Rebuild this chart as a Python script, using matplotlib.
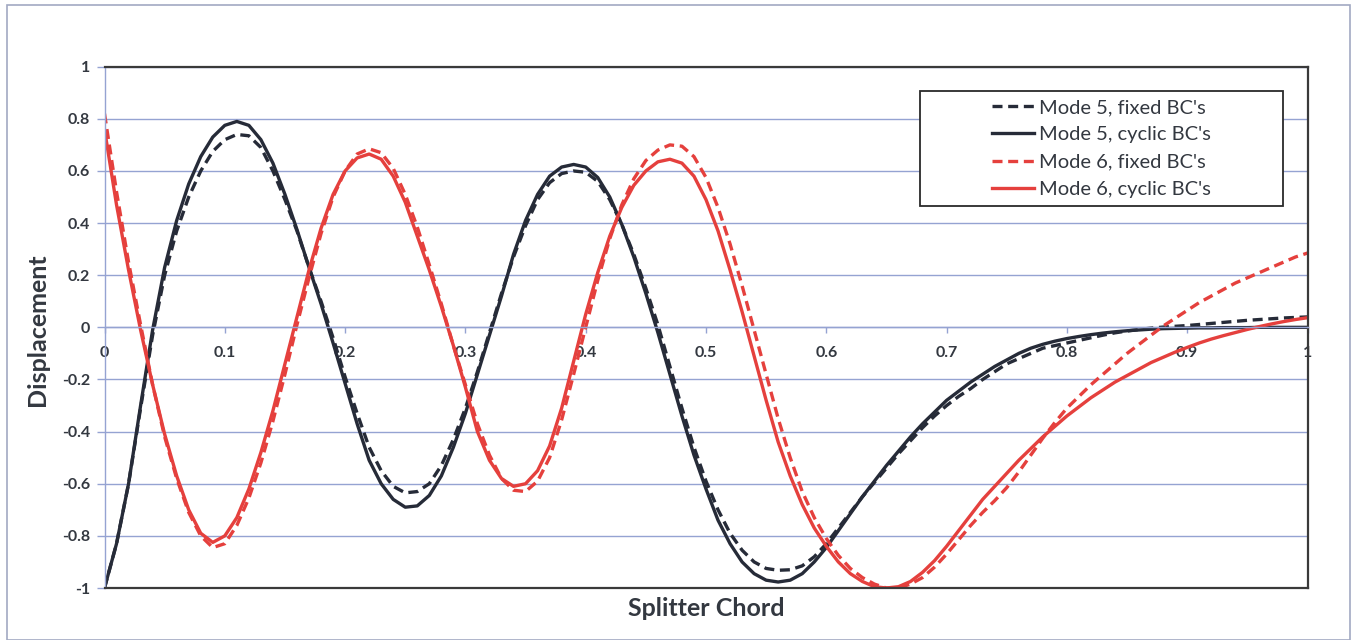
import matplotlib
matplotlib.use("Agg")
import matplotlib.pyplot as plt
from matplotlib.patches import Rectangle
from matplotlib.lines import Line2D

# Sample positions along the splitter chord
chord = [0.00, 0.01, 0.02, 0.03, 0.04, 0.05, 0.06, 0.07, 0.08, 0.09,
         0.10, 0.11, 0.12, 0.13, 0.14, 0.15, 0.16, 0.17, 0.18, 0.19,
         0.20, 0.21, 0.22, 0.23, 0.24, 0.25, 0.26, 0.27, 0.28, 0.29,
         0.30, 0.31, 0.32, 0.33, 0.34, 0.35, 0.36, 0.37, 0.38, 0.39,
         0.40, 0.41, 0.42, 0.43, 0.44, 0.45, 0.46, 0.47, 0.48, 0.49,
         0.50, 0.51, 0.52, 0.53, 0.54, 0.55, 0.56, 0.57, 0.58, 0.59,
         0.60, 0.61, 0.62, 0.63, 0.64, 0.65, 0.66, 0.67, 0.68, 0.69,
         0.70, 0.71, 0.72, 0.73, 0.74, 0.75, 0.76, 0.77, 0.78, 0.79,
         0.80, 0.81, 0.82, 0.83, 0.84, 0.85, 0.86, 0.87, 0.88, 0.89,
         0.90, 0.91, 0.92, 0.93, 0.94, 0.95, 0.96, 0.97, 0.98, 0.99,
         1.00]

mode5_fixed = [-1.00, -0.83, -0.60, -0.31, -0.03, 0.20, 0.37, 0.50, 0.60, 0.675,
               0.72, 0.74, 0.735, 0.69, 0.60, 0.49, 0.37, 0.23, 0.10, -0.04,
               -0.19, -0.33, -0.46, -0.55, -0.61, -0.635, -0.63, -0.60, -0.53, -0.43,
               -0.31, -0.17, -0.02, 0.13, 0.27, 0.39, 0.49, 0.555, 0.59, 0.60,
               0.595, 0.56, 0.49, 0.395, 0.28, 0.15, 0.01, -0.15, -0.31, -0.46,
               -0.59, -0.70, -0.79, -0.855, -0.90, -0.925, -0.932, -0.93, -0.915, -0.88,
               -0.83, -0.77, -0.71, -0.65, -0.595, -0.54, -0.485, -0.435, -0.385, -0.34,
               -0.30, -0.265, -0.235, -0.20, -0.17, -0.14, -0.12, -0.10, -0.08, -0.07,
               -0.06, -0.05, -0.04, -0.03, -0.021, -0.014, -0.008, -0.003, 0.001, 0.004,
               0.007, 0.011, 0.015, 0.019, 0.023, 0.027, 0.030, 0.033, 0.036, 0.038,
               0.040]

mode5_cyclic = [-1.00, -0.83, -0.60, -0.30, -0.01, 0.23, 0.41, 0.55, 0.655, 0.73,
                0.775, 0.79, 0.775, 0.72, 0.63, 0.51, 0.375, 0.23, 0.09, -0.06,
                -0.215, -0.37, -0.51, -0.60, -0.66, -0.69, -0.685, -0.645, -0.57, -0.46,
                -0.33, -0.18, -0.03, 0.12, 0.28, 0.41, 0.51, 0.58, 0.615, 0.625,
                0.615, 0.575, 0.50, 0.395, 0.27, 0.13, -0.02, -0.18, -0.34, -0.49,
                -0.62, -0.74, -0.83, -0.90, -0.945, -0.97, -0.977, -0.97, -0.945, -0.90,
                -0.845, -0.78, -0.715, -0.65, -0.59, -0.53, -0.475, -0.42, -0.37, -0.325,
                -0.28, -0.245, -0.21, -0.18, -0.15, -0.125, -0.10, -0.08, -0.065, -0.053,
                -0.043, -0.035, -0.028, -0.022, -0.017, -0.013, -0.010, -0.007, -0.005, -0.004,
                -0.003, -0.002, -0.002, -0.001, -0.001, -0.001, 0.000, 0.000, 0.000, 0.000,
                0.000]

mode6_fixed = [0.82, 0.52, 0.25, 0.01, -0.22, -0.42, -0.58, -0.71, -0.80, -0.845,
               -0.83, -0.76, -0.655, -0.52, -0.36, -0.18, 0.01, 0.19, 0.36, 0.50,
               0.60, 0.665, 0.685, 0.67, 0.61, 0.51, 0.385, 0.24, 0.09, -0.07,
               -0.22, -0.37, -0.49, -0.58, -0.625, -0.63, -0.59, -0.50, -0.355, -0.18,
               0.00, 0.18, 0.34, 0.47, 0.57, 0.64, 0.68, 0.70, 0.695, 0.655,
               0.575, 0.46, 0.32, 0.16, -0.01, -0.18, -0.35, -0.50, -0.63, -0.73,
               -0.81, -0.875, -0.925, -0.96, -0.985, -1.00, -1.00, -0.985, -0.96, -0.92,
               -0.87, -0.815, -0.76, -0.71, -0.665, -0.615, -0.555, -0.49, -0.425, -0.365,
               -0.31, -0.265, -0.22, -0.18, -0.14, -0.10, -0.065, -0.03, 0.005, 0.035,
               0.065, 0.095, 0.12, 0.145, 0.17, 0.19, 0.21, 0.23, 0.25, 0.27,
               0.285]

mode6_cyclic = [0.76, 0.47, 0.22, -0.01, -0.22, -0.41, -0.57, -0.70, -0.79, -0.825,
                -0.80, -0.73, -0.62, -0.48, -0.32, -0.14, 0.04, 0.22, 0.38, 0.51,
                0.60, 0.65, 0.665, 0.645, 0.58, 0.48, 0.35, 0.22, 0.08, -0.07,
                -0.23, -0.40, -0.51, -0.58, -0.61, -0.60, -0.55, -0.455, -0.31, -0.13,
                0.05, 0.21, 0.35, 0.46, 0.545, 0.60, 0.635, 0.645, 0.63, 0.58,
                0.49, 0.37, 0.22, 0.06, -0.11, -0.28, -0.44, -0.57, -0.68, -0.77,
                -0.84, -0.90, -0.945, -0.975, -0.995, -1.00, -0.995, -0.975, -0.94, -0.895,
                -0.84, -0.78, -0.72, -0.66, -0.61, -0.56, -0.51, -0.465, -0.42, -0.38,
                -0.34, -0.305, -0.27, -0.24, -0.21, -0.185, -0.16, -0.135, -0.115, -0.095,
                -0.077, -0.060, -0.045, -0.032, -0.020, -0.008, 0.003, 0.013, 0.022, 0.030,
                0.037]

x_ticks = [0.0, 0.1, 0.2, 0.3, 0.4, 0.5, 0.6, 0.7, 0.8, 0.9, 1.0]
x_tick_labels = ["0", "0.1", "0.2", "0.3", "0.4", "0.5", "0.6", "0.7", "0.8", "0.9", "1"]
y_ticks = [-1.0, -0.8, -0.6, -0.4, -0.2, 0.0, 0.2, 0.4, 0.6, 0.8, 1.0]
y_tick_labels = ["-1", "-0.8", "-0.6", "-0.4", "-0.2", "0", "0.2", "0.4", "0.6", "0.8", "1"]

series_labels = ["Mode 5, fixed BC's", "Mode 5, cyclic BC's",
                 "Mode 6, fixed BC's", "Mode 6, cyclic BC's"]

DARK = "#262b38"
RED = "#e5403d"
GRID = "#95a3d2"
FRAME = "#3a3a3a"
TEXT = "#333840"
FONT = "Lato"
tick_font = {"family": FONT, "weight": "bold", "size": 11.5, "color": TEXT}

W, H = 1351, 640
fig = plt.figure(figsize=(W / 100, H / 100), dpi=100)

# light frame round the whole chart
fig.patches.append(Rectangle((6.5 / W, 0.5 / H), (1349.5 - 6.5) / W, (635.0 - 0.5) / H,
                             transform=fig.transFigure, fill=False,
                             edgecolor="#a2a9c2", linewidth=1.2))

ax = fig.add_axes([104.5 / W, (H - 588.0) / H, 1203.0 / W, 521.3 / H])
ax.set_xlim(0, 1)
ax.set_ylim(-1, 1)

# x axis runs through y = 0 (set before the tick labels are styled)
ax.spines["bottom"].set_position(("data", 0.0))
ax.spines["bottom"].set_color(GRID)
ax.spines["bottom"].set_linewidth(1.0)
for side in ("top", "right"):
    ax.spines[side].set_color(FRAME)
    ax.spines[side].set_linewidth(1.6)
ax.spines["left"].set_color(GRID)
ax.spines["left"].set_linewidth(1.0)

dash = (0, (3.0, 1.7))
lw = 2.4
ax.plot(chord, mode5_fixed, color=DARK, lw=lw, linestyle=dash, label=series_labels[0])
ax.plot(chord, mode5_cyclic, color=DARK, lw=lw, label=series_labels[1])
ax.plot(chord, mode6_fixed, color=RED, lw=lw, linestyle=dash, label=series_labels[2])
ax.plot(chord, mode6_cyclic, color=RED, lw=lw, label=series_labels[3])

ax.yaxis.grid(True, color=GRID, linewidth=1.0)
ax.set_axisbelow(True)
ax.tick_params(axis="y", direction="out", length=5.5, width=1.0, color=GRID, pad=5)
ax.tick_params(axis="x", direction="out", length=4.5, width=1.0, color=GRID, pad=9)
ax.set_yticks(y_ticks)
ax.set_yticklabels(y_tick_labels, fontdict=tick_font)
ax.set_xticks(x_ticks)
ax.set_xticklabels(x_tick_labels, fontdict=tick_font)

# plot-area border along the bottom
ax.add_line(Line2D([0, 1], [0, 0], transform=ax.transAxes, color=FRAME,
                   linewidth=1.6, clip_on=False, zorder=3))

fig.text(706 / W, 1 - 609 / H, "Splitter Chord", ha="center", va="center",
         fontfamily=FONT, fontweight="bold", fontsize=18, color=TEXT)
fig.text(38 / W, 1 - 330 / H, "Displacement", ha="center", va="center",
         rotation=90, fontfamily=FONT, fontweight="bold", fontsize=18, color=TEXT)

# legend box
bx0, bx1 = (920 - 104.5) / 1203, (1283 - 104.5) / 1203
by0, by1 = (588 - 206) / 521.3, (588 - 91) / 521.3
ax.add_patch(Rectangle((bx0, by0), bx1 - bx0, by1 - by0, transform=ax.transAxes,
                       facecolor="white", edgecolor="#2a2a2a", linewidth=1.3,
                       zorder=5))
leg = ax.legend(loc="center", bbox_to_anchor=((bx0 + bx1) / 2, (by0 + by1) / 2),
                bbox_transform=ax.transAxes, frameon=False,
                prop={"family": FONT, "size": 14.5}, handlelength=2.1,
                handletextpad=0.25, labelspacing=0.5, borderpad=0)
leg.set_zorder(6)
for t in leg.get_texts():
    t.set_color(TEXT)

fig.savefig("out.png", dpi=100)
